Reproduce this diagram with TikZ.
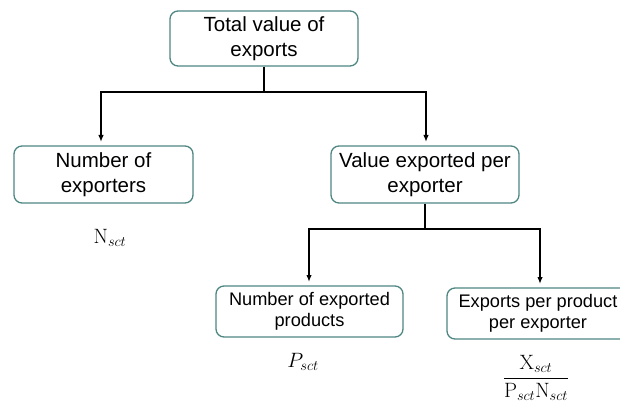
\documentclass[tikz,border=0pt]{standalone}
\usepackage[no-math]{fontspec}
\setmainfont{Liberation Sans}
\usepackage{amsmath}
\usetikzlibrary{arrows.meta}
\definecolor{boxteal}{RGB}{78,134,130}
\tikzset{
  box/.style={draw=boxteal,line width=1.3pt,rounded corners=8pt,align=center,inner sep=2pt},
  big/.style={font=\fontsize{20.5}{24.5}\selectfont},
  small/.style={font=\fontsize{18.2}{21.5}\selectfont},
  link/.style={line width=1.8pt},
  arr/.style={link,-{Latex[length=7pt,width=5.5pt]},shorten >=4pt},
  formula/.style={font=\fontsize{20}{24}\selectfont}
}
\begin{document}
\begin{tikzpicture}[x=1pt,y=-1pt]
\useasboundingbox (0,0) rectangle (620,403);
   \node[box,big,minimum width=188pt,minimum height=55pt] at (264,38.5) (T) {Total value of\\exports};
   \node[box,big,minimum width=179pt,minimum height=57pt] at (103.5,174.5) (N) {Number of\\exporters};
   \node[box,big,minimum width=188pt,minimum height=57pt] at (425,174.5) (V) {Value exported per\\exporter};
   \node[box,small,minimum width=187pt,minimum height=51pt] at (309.5,311.5) (P) {Number of exported\\products};
   \node[box,small,minimum width=182pt,minimum height=51pt] at (538,313.5) (X) {Exports per product\\per exporter};

   \node[formula] at (110,238) (Nf) {$\mathrm{N}_{sct}$};
   \node[formula] at (303,362) (Pf) {$P_{sct}$};
   \node[formula] at (536,378) (Xf) {$\dfrac{\mathrm{X}_{sct}}{\mathrm{P}_{sct}\mathrm{N}_{sct}}$};

    % first split
    \coordinate (j1) at (264,92);
    \draw[link] (T.south) -- (j1);
    \draw[arr] (j1) -| (101,146);
    \draw[arr] (j1) -| (426,146);

    % second split
    \coordinate (j2) at (425,229);
    \draw[link] (V.south) -- (j2);
    \draw[arr] (j2) -| (309,286);
    \draw[arr] (j2) -| (540,288);

    \end{tikzpicture}
\end{document}
